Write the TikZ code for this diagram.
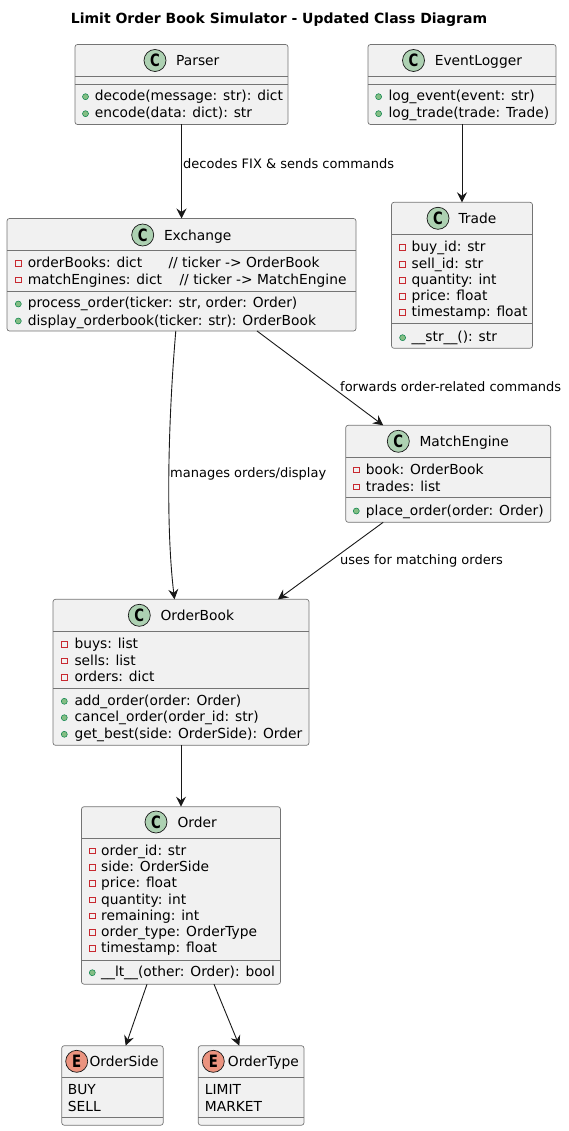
\documentclass[tikz,border=0pt]{standalone}
\usepackage{fontspec}
\setmainfont{DejaVu Sans}
\usepackage{graphicx, xcolor}
\usetikzlibrary{arrows.meta}

\definecolor{boxfill}{HTML}{F1F1F1}
\definecolor{boxline}{HTML}{181818}
\definecolor{classicon}{HTML}{ADD1B2}
\definecolor{enumicon}{HTML}{EB937F}
\definecolor{pubfill}{HTML}{84BE84}
\definecolor{publine}{HTML}{038048}
\definecolor{privline}{HTML}{C82930}

\tikzset{
  umlbox/.style={draw=boxline!60, fill=boxfill, line width=0.7pt, rounded corners=2.5pt, anchor=north west, outer sep=0pt, inner sep=0pt},
  divider/.style={draw=boxline!60, line width=0.7pt},
  member/.style={anchor=base west, inner sep=0pt, font=\fontsize{13.8}{16}\selectfont, text=black},
  edgelabel/.style={anchor=west, inner sep=0pt, font=\fontsize{13}{15}\selectfont, text=black},
  pubmark/.style={circle, draw=publine, fill=pubfill, line width=0.5pt, minimum size=6pt, inner sep=0pt},
  privmark/.style={rectangle, draw=privline, fill=none, line width=0.9pt, minimum size=5.8pt, inner sep=0pt},
  iconc/.style={circle, draw=boxline, fill=classicon, line width=0.7pt, minimum size=22pt, inner sep=0pt, font=\fontsize{17}{17}\bfseries\selectfont},
  icone/.style={iconc, fill=enumicon},
  assoc/.style={draw=boxline, line width=0.9pt, -{Stealth[length=10pt,width=10pt,inset=3.5pt]}}
}
\newcommand{\iconletter}[1]{\scalebox{.78}[1]{#1}}

\begin{document}
\begin{tikzpicture}[x=1pt, y=-1pt]
  \useasboundingbox (0,0) rectangle (569,1131);

  % Title
  \node[inner sep=0pt, font=\fontsize{14}{16}\bfseries\selectfont] (title) at (279,19.5) {Limit Order Book Simulator - Updated Class Diagram};

  % Parser
  \node[umlbox, minimum width=213pt, minimum height=80pt] (parser) at (75,44.5) {};
  \foreach \y in {76.5,84.5} \draw[divider] (parser.west |- 0,\y) -- (parser.east |- 0,\y);
  \node[iconc] (parsericon) at (155,60.5) {\iconletter{C}};
  \node[member] (parsername) at (176,65.5) {Parser};
  \foreach \y/\txt [count=\i] in {100.7/decode(message: str): dict, 117.7/encode(data: dict): str} {
    \node[pubmark] (parserpub\i) at (85.5,\y-4) {};
    \node[member] (parserrow\i) at (94.6,\y) {\txt};
  }

  % EventLogger
  \node[umlbox, minimum width=188pt, minimum height=80pt] (logger) at (368,44.5) {};
  \foreach \y in {76.5,84.5} \draw[divider] (logger.west |- 0,\y) -- (logger.east |- 0,\y);
  \node[iconc] (loggericon) at (413.5,60.5) {\iconletter{C}};
  \node[member] (loggername) at (434.6,65.5) {EventLogger};
  \foreach \y/\txt [count=\i] in {100.7/log\_event(event: str), 117.7/log\_trade(trade: Trade)} {
    \node[pubmark] (loggerpub\i) at (378.6,\y-4) {};
    \node[member] (loggerrow\i) at (388.4,\y) {\txt};
  }

  % Exchange
  \node[umlbox, minimum width=349pt, minimum height=112.5pt] (exchange) at (7,218.5) {};
  \foreach \y in {250.4,291} \draw[divider] (exchange.west |- 0,\y) -- (exchange.east |- 0,\y);
  \node[iconc] (exchangeicon) at (142.7,235) {\iconletter{C}};
  \node[member] (exchangename) at (163.8,240.3) {Exchange};
  \foreach \y/\txt [count=\i] in {267.7/{orderBooks: dict\ \ \ \ \ \ // ticker -> OrderBook}, 284/{matchEngines: dict\ \ \ \ // ticker -> MatchEngine}} {
    \node[privmark] (exchangepriv\i) at (18.3,\y-4) {};
    \node[member] (exchangefield\i) at (27.6,\y) {\txt};
  }
  \foreach \y/\txt [count=\i] in {308/{process\_order(ticker: str, order: Order)}, 325/display\_orderbook(ticker: str): OrderBook} {
    \node[pubmark] (exchangepub\i) at (18.3,\y-4) {};
    \node[member] (exchangerow\i) at (27.6,\y) {\txt};
  }

  % Trade
  \node[umlbox, minimum width=141pt, minimum height=146pt] (trade) at (391.5,202.3) {};
  \foreach \y in {234,323} \draw[divider] (trade.west |- 0,\y) -- (trade.east |- 0,\y);
  \node[iconc] (tradeicon) at (438,218.3) {\iconletter{C}};
  \node[member] (tradename) at (458.3,223.3) {Trade};
  \foreach \y/\txt [count=\i] in {251.7/buy\_id: str, 268.3/sell\_id: str, 284.3/quantity: int, 300.3/price: float, 316.3/timestamp: float} {
    \node[privmark] (tradepriv\i) at (402.6,\y-4) {};
    \node[member] (tradefield\i) at (411.4,\y) {\txt};
  }
  \node[pubmark] (tradepub) at (402.6,337.7) {};
  \node[member] (traderow) at (411.4,341.7) {\_\_str\_\_(): str};

  % MatchEngine
  \node[umlbox, minimum width=205pt, minimum height=97pt] (engine) at (345.7,425.3) {};
  \foreach \y in {457,497.7} \draw[divider] (engine.west |- 0,\y) -- (engine.east |- 0,\y);
  \node[iconc] (engineicon) at (398.3,441.3) {\iconletter{C}};
  \node[member] (enginename) at (419.3,446) {MatchEngine};
  \foreach \y/\txt [count=\i] in {474/book: OrderBook, 491/trades: list} {
    \node[privmark] (enginepriv\i) at (356.3,\y-4) {};
    \node[member] (enginefield\i) at (365.7,\y) {\txt};
  }
  \node[pubmark] (enginepub) at (356.3,511) {};
  \node[member] (enginerow) at (365.7,515) {place\_order(order: Order)};

  % OrderBook
  \node[umlbox, minimum width=256pt, minimum height=146pt] (orderbook) at (53,599.3) {};
  \foreach \y in {631.3,688.7} \draw[divider] (orderbook.west |- 0,\y) -- (orderbook.east |- 0,\y);
  \node[iconc] (orderbookicon) at (139.3,615.3) {\iconletter{C}};
  \node[member] (orderbookname) at (160.3,620) {OrderBook};
  \foreach \y/\txt [count=\i] in {648.3/buys: list, 665/sells: list, 681.3/orders: dict} {
    \node[privmark] (orderbookpriv\i) at (64.3,\y-4) {};
    \node[member] (orderbookfield\i) at (74.3,\y) {\txt};
  }
  \foreach \y/\txt [count=\i] in {705.3/add\_order(order: Order), 721.7/cancel\_order(order\_id: str), 738.3/get\_best(side: OrderSide): Order} {
    \node[pubmark] (orderbookpub\i) at (64.3,\y-4) {};
    \node[member] (orderbookrow\i) at (74.3,\y) {\txt};
  }

  % Order
  \node[umlbox, minimum width=199pt, minimum height=177.5pt] (order) at (81.5,806.7) {};
  \foreach \y in {838.3,960.3} \draw[divider] (order.west |- 0,\y) -- (order.east |- 0,\y);
  \node[iconc] (ordericon) at (156,822) {\iconletter{C}};
  \node[member] (ordername) at (177.3,827) {Order};
  \foreach \y/\txt [count=\i] in {855/order\_id: str, 871.7/side: OrderSide, 887.7/price: float, 904/quantity: int, 920/remaining: int, 936.7/order\_type: OrderType, 952.7/timestamp: float} {
    \node[privmark] (orderpriv\i) at (92.3,\y-4) {};
    \node[member] (orderfield\i) at (101,\y) {\txt};
  }
  \node[pubmark] (orderpub) at (92.3,972.7) {};
  \node[member] (orderrow) at (101,976.7) {\_\_lt\_\_(other: Order): bool};

  % OrderSide
  \node[umlbox, minimum width=101.5pt, minimum height=79.5pt] (side) at (61.7,1045.7) {};
  \foreach \y in {1077.3,1117.3} \draw[divider] (side.west |- 0,\y) -- (side.east |- 0,\y);
  \node[icone] (sideicon) at (76.7,1061.3) {\iconletter{E}};
  \node[member] (sidename) at (89.3,1066) {OrderSide};
  \node[member] (siderow1) at (67.7,1094) {BUY};
  \node[member] (siderow2) at (67.7,1111) {SELL};

  % OrderType
  \node[umlbox, minimum width=105.7pt, minimum height=79.5pt] (type) at (198.3,1045.7) {};
  \foreach \y in {1077.3,1117.3} \draw[divider] (type.west |- 0,\y) -- (type.east |- 0,\y);
  \node[icone] (typeicon) at (213.3,1061.3) {\iconletter{E}};
  \node[member] (typename) at (227.7,1066) {OrderType};
  \node[member] (typerow1) at (204.7,1094) {LIMIT};
  \node[member] (typerow2) at (204.7,1111) {MARKET};

  % Connectors
  \draw[assoc] (parser) -- (exchange);
  \draw[assoc] (logger) -- (trade);
  \draw[assoc] ([xshift=168.8pt]exchange.south west) .. controls (169,410) and (165,520) .. ([xshift=121.5pt]orderbook.north west);
  \draw[assoc] ([xshift=250pt]exchange.south west) -- ([xshift=37.5pt]engine.north west);
  \draw[assoc] ([xshift=37.5pt]engine.south west) -- ([xshift=225pt]orderbook.north west);
  \draw[assoc] (orderbook) -- (order);
  \draw[assoc] ([xshift=65.5pt]order.south west) -- ([xshift=64pt]side.north west);
  \draw[assoc] ([xshift=132.5pt]order.south west) -- ([xshift=41pt]type.north west);

  % Labels
  \node[edgelabel] (label1) at (183,163.5) {decodes FIX \& sends commands};
  \node[edgelabel] (label2) at (340,386.5) {forwards order-related commands};
  \node[edgelabel] (label3) at (170,473.5) {manages orders/display};
  \node[edgelabel] (label4) at (340,560.5) {uses for matching orders};
\end{tikzpicture}
\end{document}
